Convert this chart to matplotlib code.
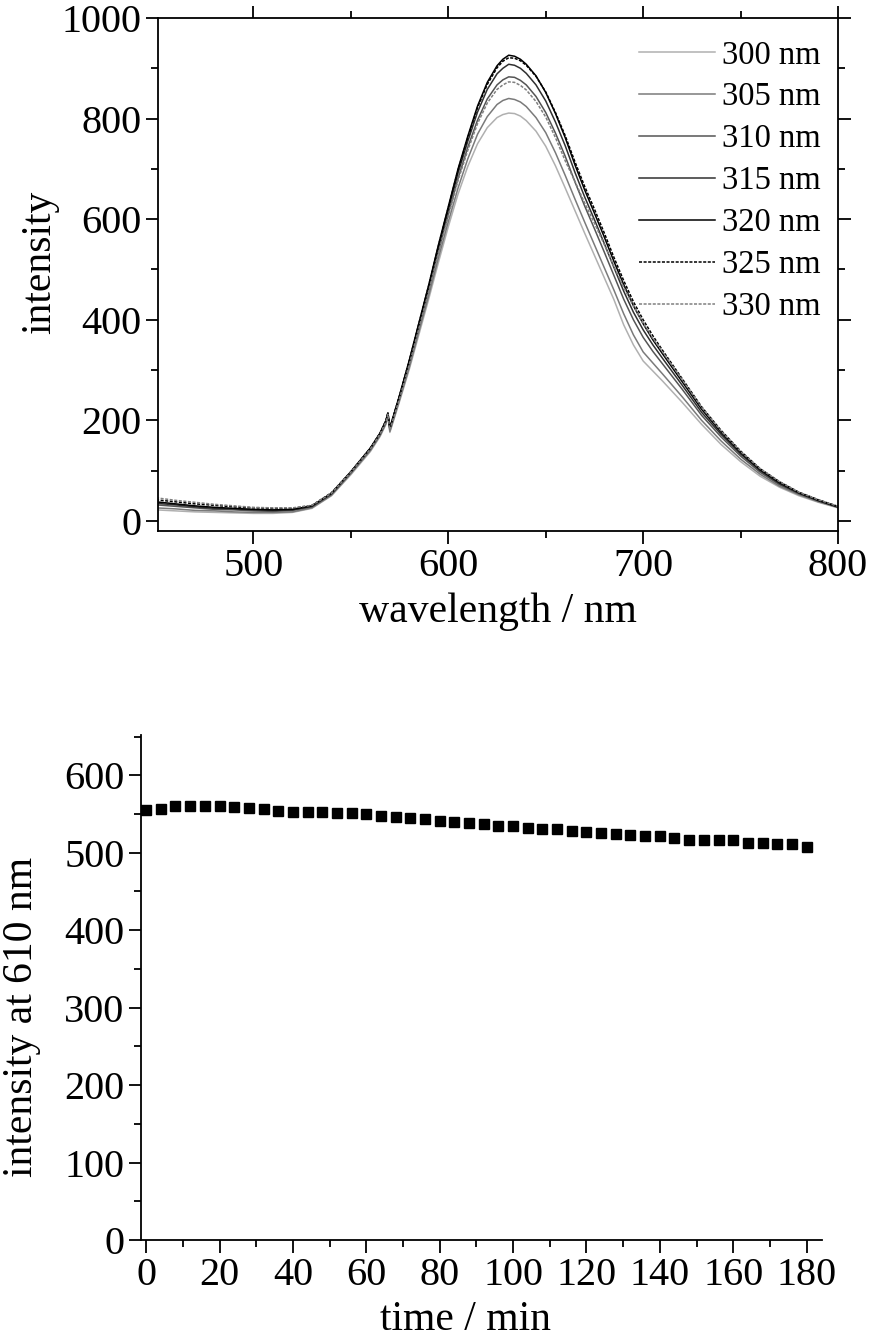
import matplotlib
matplotlib.use("Agg")
import matplotlib.pyplot as plt
from matplotlib.ticker import MultipleLocator

plt.rcParams['font.family'] = ['Liberation Serif', 'DejaVu Serif']

# ---------------- data: emission spectra ----------------
wavelength = [450, 460, 470, 480, 490, 500, 510, 520, 530, 540, 550, 560, 565, 568, 569, 570,
              575, 580, 585, 590, 595, 600, 605, 610, 615, 620, 625, 628, 631, 634, 637, 640,
              645, 650, 655, 660, 665, 670, 675, 680, 685, 690, 695, 700, 705, 710, 720, 730,
              740, 750, 760, 770, 780, 790, 800]

s300 = [22, 20, 18, 17, 16, 15, 15, 17, 25, 50, 92, 138, 168, 192, 208, 176,
        238, 302, 372, 442, 515, 585, 650, 705, 750, 782, 802, 808, 811, 810, 805, 796,
        775, 745, 706, 662, 617, 572, 528, 484, 440, 390, 350, 318, 298, 278, 236, 192,
        152, 118, 89, 67, 50, 37, 26]
s305 = [26, 24, 21, 20, 18, 17, 17, 18, 26, 51, 94, 140, 170, 194, 210, 178,
        241, 306, 378, 449, 524, 595, 662, 720, 769, 804, 828, 836, 840, 838, 833, 824,
        802, 772, 732, 687, 640, 594, 549, 504, 459, 412, 370, 336, 314, 292, 247, 200,
        159, 123, 93, 69, 52, 38, 27]
s310 = [32, 29, 26, 23, 22, 20, 19, 21, 28, 53, 96, 142, 172, 197, 212, 182,
        246, 313, 386, 460, 537, 610, 681, 743, 797, 839, 867, 877, 883, 882, 876, 867,
        844, 812, 771, 725, 674, 626, 581, 535, 488, 441, 400, 365, 337, 312, 262, 210,
        167, 129, 97, 72, 54, 40, 27]
s315 = [35, 32, 28, 25, 24, 22, 21, 22, 29, 54, 97, 144, 174, 199, 214, 184,
        248, 317, 391, 466, 544, 619, 692, 755, 813, 858, 889, 900, 908, 906, 900, 890,
        867, 835, 793, 746, 693, 644, 599, 552, 504, 457, 415, 380, 350, 323, 270, 216,
        172, 133, 100, 74, 55, 40, 28]
s320 = [38, 34, 30, 27, 25, 23, 22, 23, 30, 55, 98, 145, 175, 200, 215, 185,
        250, 320, 395, 470, 550, 625, 700, 765, 825, 872, 905, 918, 926, 924, 918, 908,
        885, 852, 810, 762, 708, 658, 612, 565, 516, 470, 428, 392, 360, 332, 277, 222,
        176, 136, 102, 76, 56, 41, 28]
s325 = [42, 38, 34, 31, 28, 26, 25, 25, 31, 56, 98, 145, 175, 200, 215, 185,
        250, 319, 394, 469, 548, 623, 698, 762, 822, 868, 901, 914, 921, 920, 915, 906,
        884, 853, 812, 766, 714, 665, 620, 573, 524, 478, 436, 400, 368, 339, 283, 227,
        180, 139, 104, 78, 57, 42, 29]
s330 = [46, 41, 37, 33, 30, 27, 26, 26, 31, 55, 97, 143, 173, 197, 212, 181,
        244, 311, 384, 457, 534, 606, 677, 737, 790, 831, 858, 867, 873, 872, 866, 857,
        834, 803, 762, 716, 675, 632, 592, 550, 506, 465, 427, 393, 363, 336, 281, 226,
        179, 138, 104, 78, 57, 42, 29]

series_labels = ['300 nm', '305 nm', '310 nm', '315 nm', '320 nm', '325 nm', '330 nm']
series_values = [s300, s305, s310, s315, s320, s325, s330]
series_colors = ['#b0b0b0', '#7a7a7a', '#555555', '#303030', '#000000', '#000000', '#808080']
series_styles = ['-', '-', '-', '-', '-', (0, (2, 1)), (0, (2, 1))]

# ---------------- data: time course ----------------
time_min = [0, 4, 8, 12, 16, 20, 24, 28, 32, 36, 40, 44, 48, 52, 56, 60, 64, 68, 72, 76, 80, 84, 88,
            92, 96, 100, 104, 108, 112, 116, 120, 124, 128, 132, 136, 140, 144, 148, 152, 156, 160,
            164, 168, 172, 176, 180]
intensity_610 = [555, 557, 560, 560, 560, 560, 559, 558, 557, 554, 553, 553, 552, 551, 551, 550,
                 547, 546, 545, 543, 541, 540, 539, 537, 535, 534, 532, 530, 530, 528, 527, 525,
                 524, 523, 522, 521, 519, 517, 516, 516, 516, 513, 512, 511, 511, 508]

W, H = 874, 1338
fig = plt.figure(figsize=(W / 100, H / 100), dpi=100)

TICK_FS = 29
LABEL_FS = 30

# ---------------- top panel ----------------
ax1 = fig.add_axes([158 / W, 1 - 531 / H, (838 - 158) / W, (531 - 18) / H])
for lab, vals, col, ls in zip(series_labels, series_values, series_colors, series_styles):
    ax1.plot(wavelength, vals, color=col, linestyle=ls, linewidth=1.1, label=lab)
ax1.set_xlim(451, 800)
ax1.set_ylim(-20, 1000)
ax1.xaxis.set_major_locator(MultipleLocator(100))
ax1.xaxis.set_minor_locator(MultipleLocator(50))
ax1.yaxis.set_major_locator(MultipleLocator(200))
ax1.yaxis.set_minor_locator(MultipleLocator(100))
ax1.tick_params(which='both', direction='out', top=True, right=True, width=1.3,
                labelsize=TICK_FS, pad=3)
ax1.tick_params(which='major', length=9)
ax1.tick_params(which='minor', length=5)
for sp in ax1.spines.values():
    sp.set_linewidth(1.3)
ax1.set_xlabel('wavelength / nm', fontsize=LABEL_FS)
ax1.set_ylabel('intensity', fontsize=LABEL_FS)
ax1.xaxis.label.set_verticalalignment('center')
ax1.yaxis.label.set_verticalalignment('center')
ax1.xaxis.set_label_coords(0.5, (531 - 612) / 513)
ax1.yaxis.set_label_coords((40 - 158) / 680, (531 - 262) / 513)
ax1.legend(loc='upper right', frameon=False, fontsize=23.5, handlelength=2.33,
           handletextpad=0.22, labelspacing=0.35, borderpad=0, borderaxespad=0,
           bbox_to_anchor=((821 - 158) / 680, (531 - 40) / 513))

# ---------------- bottom panel ----------------
ax2 = fig.add_axes([141 / W, 1 - 1240 / H, (822 - 141) / W, (1240 - 735) / H])
ax2.plot(time_min, intensity_610, linestyle='none', marker='s', markersize=7.6,
         color='black')
ax2.set_xlim(-1.4, 184.2)
ax2.set_ylim(0, 652)
ax2.spines['top'].set_visible(False)
ax2.spines['right'].set_visible(False)
for sp in ax2.spines.values():
    sp.set_linewidth(1.3)
ax2.xaxis.set_major_locator(MultipleLocator(20))
ax2.xaxis.set_minor_locator(MultipleLocator(10))
ax2.yaxis.set_major_locator(MultipleLocator(100))
ax2.yaxis.set_minor_locator(MultipleLocator(50))
ax2.tick_params(which='both', direction='out', width=1.3, labelsize=TICK_FS, pad=3)
ax2.tick_params(which='major', length=9)
ax2.tick_params(which='minor', length=5)
ax2.set_xlabel('time / min', fontsize=LABEL_FS)
ax2.set_ylabel('intensity at 610 nm', fontsize=LABEL_FS)
ax2.xaxis.label.set_verticalalignment('center')
ax2.yaxis.label.set_verticalalignment('center')
ax2.xaxis.set_label_coords((465 - 141) / 681, (1240 - 1320) / 505)
ax2.yaxis.set_label_coords((22 - 141) / 681, (1240 - 1017) / 505)

fig.savefig('out.png', dpi=100)
